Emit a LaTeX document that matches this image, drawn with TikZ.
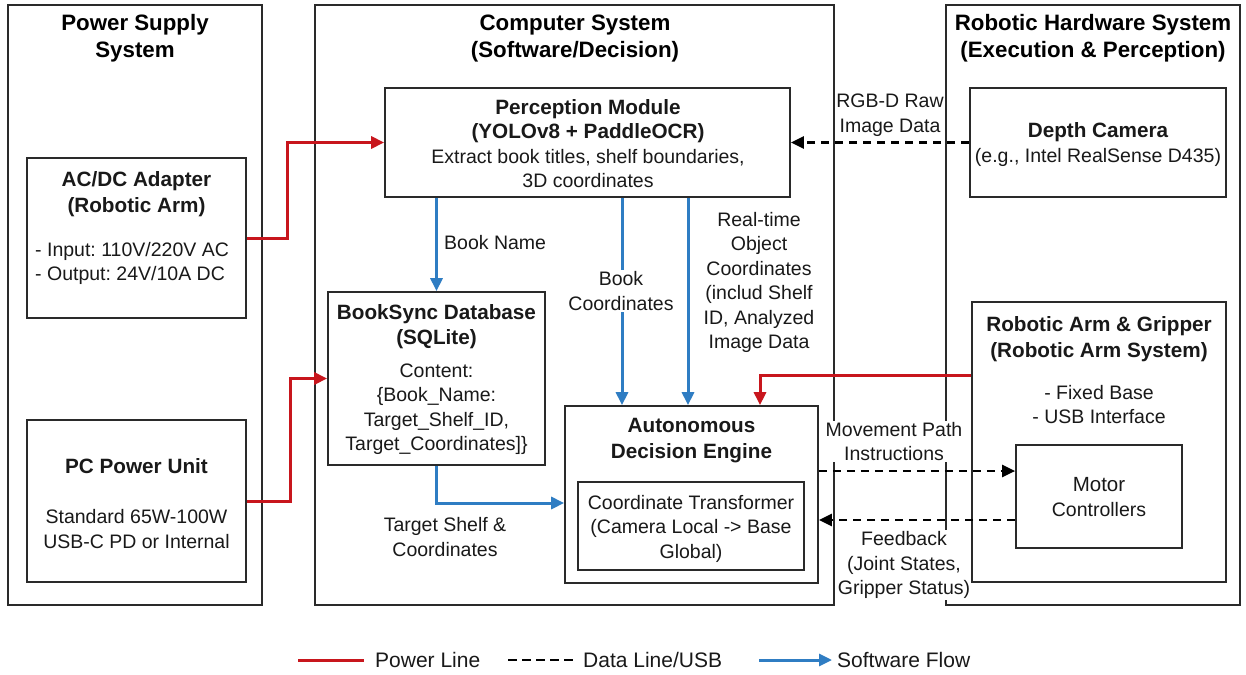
\documentclass[tikz,border=0pt]{standalone}
\usepackage{fontspec}
\setmainfont{Liberation Sans}
\usetikzlibrary{arrows.meta,calc}
\definecolor{pred}{HTML}{C8161D}
\definecolor{sblue}{HTML}{2F7DC3}
\definecolor{edge}{HTML}{2A2A2A}
\frenchspacing
\begin{document}
\begin{tikzpicture}[x=1pt,y=-1pt,
  box/.style={draw=edge, line width=1.7pt, inner sep=0pt},
  txt/.style={font=\fontsize{19.5}{24.5}\selectfont, align=center, inner sep=0pt, text=black!90},
  btxt/.style={font=\fontsize{20.7}{25.5}\selectfont\bfseries, align=center, inner sep=0pt, text=black!90},
  ttl/.style={font=\fontsize{22.3}{27}\selectfont\bfseries, align=center, inner sep=0pt},
  lbl/.style={txt, fill=white, inner sep=1.5pt},
  tip/.style={-{Triangle[length=13pt,width=12pt]}},
  power/.style={draw=pred, line width=3pt, tip},
  data/.style={draw=black, line width=2.4pt, dash pattern=on 8pt off 6pt, tip},
  soft/.style={draw=sblue, line width=3pt, tip}]
\useasboundingbox (0,0) rectangle (1246,674);
\fill[white] (0,0) rectangle (1246,674);

% outer groups
\node[box, minimum width=254pt, minimum height=600pt] (pss) at (135,305) {};
\node[box, minimum width=519pt, minimum height=600pt] (cs) at (574.5,305) {};
\node[box, minimum width=294pt, minimum height=600pt] (rhs) at (1093,305) {};
\node[ttl] (pssT) at (135,38.5) {Power Supply\\System};
\node[ttl] (csT) at (575,38.5) {Computer System\\(Software/Decision)};
\node[ttl] (rhsT) at (1093,38.5) {Robotic Hardware System\\(Execution \& Perception)};

% power supply
\node[box, minimum width=219pt, minimum height=160pt] (acdc) at (136.5,238) {};
\node[btxt] (acdcT) at (136.5,194) {AC/DC Adapter\\(Robotic Arm)};
\node[txt, align=left, anchor=west] (acdcB) at (35,263.5) {- Input: 110V/220V AC\\- Output: 24V/10A DC};
\node[box, minimum width=219pt, minimum height=162pt] (pcp) at (136.5,501) {};
\node[btxt] (pcpT) at (136.5,466) {PC Power Unit};
\node[txt] (pcpB) at (136.5,529) {Standard 65W-100W\\USB-C PD or Internal};

% computer system
\node[box, minimum width=405pt, minimum height=109pt] (per) at (587.5,142.5) {};
\node[txt] (perT) at (588,143.5) {\fontsize{20.7}{25}\selectfont\bfseries Perception Module\\\fontsize{20.7}{25}\selectfont\bfseries (YOLOv8 + PaddleOCR)\\Extract book titles, shelf boundaries,\\3D coordinates};
\node[box, minimum width=217pt, minimum height=173pt] (bdb) at (436.5,378.5) {};
\node[btxt] (bdbT) at (436.5,326.5) {BookSync Database\\(SQLite)};
\node[txt] (bdbB) at (436.5,409) {Content:\\\{Book\_Name:\\Target\_Shelf\_ID,\\Target\_Coordinates]\}};
\node[box, minimum width=253pt, minimum height=177pt] (ade) at (691.5,494.5) {};
\node[btxt] (adeT) at (691.5,440.5) {Autonomous\\Decision Engine};
\node[box, minimum width=226pt, minimum height=88pt] (ct) at (691,526) {};
\node[txt] (ctT) at (691,528.5) {Coordinate Transformer\\(Camera Local -> Base\\Global)};

% robotic hardware
\node[box, minimum width=256pt, minimum height=109pt] (cam) at (1098,142.5) {};
\node[txt] (camT) at (1098,144.5) {\fontsize{20.7}{25}\selectfont\bfseries Depth Camera\\(e.g., Intel RealSense D435)};
\node[box, minimum width=254pt, minimum height=280pt] (arm) at (1099,442) {};
\node[btxt] (armT) at (1099,339) {Robotic Arm \& Gripper\\(Robotic Arm System)};
\node[txt] (armB) at (1099,404.5) {\fontsize{19.5}{23}\selectfont - Fixed Base\\- USB Interface};
\node[box, minimum width=166pt, minimum height=103pt] (mot) at (1099,496.5) {};
\node[txt] (motT) at (1099,497) {\fontsize{20.5}{26}\selectfont Motor\\Controllers};

% power lines
\draw[power] (acdc.east) -- ++(41,0) |- (per.west);
\draw[power] (pcp.east) -- ++(44,0) |- (bdb.west);
\draw[power] (arm.west |- 0,375) -| (ade.north -| 760,0);

% data lines
\draw[data] (cam.west) -- (per.east);
\draw[data] (ade.east |- 0,471) -- (mot.west |- 0,471);
\draw[data] (mot.west |- 0,520) -- (ade.east |- 0,520);

% software flow
\draw[soft] (per.south -| bdb.north) -- (bdb.north);
\draw[soft] (per.south -| 622,0) -- (ade.north -| 622,0);
\draw[soft] (per.south -| 688,0) -- (ade.north -| 688,0);
\draw[soft] (bdb.south) |- (ade.west |- 0,503);

% labels
\node[txt] (lRGB) at (890,115) {RGB-D Raw\\Image Data};
\node[txt, anchor=west] (lBN) at (444,243) {Book Name};
\node[lbl] (lBC) at (621,291) {Book\\Coordinates};
\node[txt] (lRT) at (759,282.5) {\fontsize{19.5}{24.2}\selectfont Real-time\\Object\\Coordinates\\(includ Shelf\\ID, Analyzed\\Image Data};
\node[txt] (lTS) at (445,537) {Target Shelf \&\\Coordinates};
\node[lbl] (lMP) at (894,441.5) {Movement Path\\Instructions};
\node[lbl, inner sep=1pt] (lFB) at (904,565) {Feedback\\(Joint States,\\Gripper Status)};

% legend
\coordinate (g1a) at (298,660); \coordinate (g1b) at (364,660);
\coordinate (g2a) at (508,660); \coordinate (g2b) at (576,660);
\coordinate (g3a) at (759,660); \coordinate (g3b) at (832,660);
\draw[draw=pred, line width=3pt] (g1a) -- (g1b);
\draw[draw=black, line width=2.4pt, dash pattern=on 9pt off 5pt] (g2a) -- (g2b);
\draw[soft] (g3a) -- (g3b);
\node[txt, font=\fontsize{21}{25}\selectfont, anchor=west] (gl1) at (375,660) {Power Line};
\node[txt, font=\fontsize{21}{25}\selectfont, anchor=west] (gl2) at (583,660) {Data Line/USB};
\node[txt, font=\fontsize{21}{25}\selectfont, anchor=west] (gl3) at (837,660) {Software Flow};
\end{tikzpicture}
\end{document}
